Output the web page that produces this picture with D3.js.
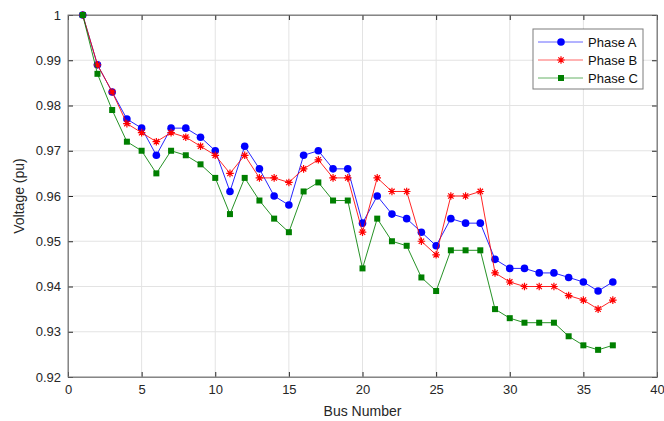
<!DOCTYPE html>
<html><head><meta charset="utf-8">
<script src="https://cdn.jsdelivr.net/npm/d3@7"></script>
<style>body{margin:0;background:#fff}svg{display:block}text{font-family:"Liberation Sans",Arial,sans-serif}</style>
</head><body><svg id="c" width="664" height="421"></svg>
<script>
const buses = d3.range(1, 38);
const phaseA = [1,0.989,0.983,0.977,0.975,0.969,0.975,0.975,0.973,0.970,0.961,0.971,0.966,0.960,0.958,0.969,0.970,0.966,0.966,0.954,0.960,0.956,0.955,0.952,0.949,0.955,0.954,0.954,0.946,0.944,0.944,0.943,0.943,0.942,0.941,0.939,0.941];
const phaseB = [1,0.989,0.983,0.976,0.974,0.972,0.974,0.973,0.971,0.969,0.965,0.969,0.964,0.964,0.963,0.966,0.968,0.964,0.964,0.952,0.964,0.961,0.961,0.950,0.947,0.960,0.960,0.961,0.943,0.941,0.940,0.940,0.940,0.938,0.937,0.935,0.937];
const phaseC = [1,0.987,0.979,0.972,0.970,0.965,0.970,0.969,0.967,0.964,0.956,0.964,0.959,0.955,0.952,0.961,0.963,0.959,0.959,0.944,0.955,0.950,0.949,0.942,0.939,0.948,0.948,0.948,0.935,0.933,0.932,0.932,0.932,0.929,0.927,0.926,0.927];
const seriesNames = ["Phase A","Phase B","Phase C"];
const xTicks = [0,5,10,15,20,25,30,35,40];
const yTicks = [0.92,0.93,0.94,0.95,0.96,0.97,0.98,0.99,1];

const svg = d3.select("#c");
const L=68, R=657, T=15, B=377;
const x = d3.scaleLinear().domain([0,40]).range([L,R]);
const y = d3.scaleLinear().domain([0.92,1]).range([B,T]);

// grid
svg.append("g").selectAll("line").data(xTicks).join("line")
  .attr("x1",d=>x(d)).attr("x2",d=>x(d)).attr("y1",T).attr("y2",B)
  .attr("stroke","#e3e3e3").attr("stroke-width",1);
svg.append("g").selectAll("line").data(yTicks).join("line")
  .attr("x1",L).attr("x2",R).attr("y1",d=>y(d)).attr("y2",d=>y(d))
  .attr("stroke","#e3e3e3").attr("stroke-width",1);

// axes
const ax = svg.append("g").attr("transform",`translate(0,${B})`)
  .call(d3.axisBottom(x).tickValues(xTicks).tickFormat(d3.format("d")).tickSizeInner(-5).tickSizeOuter(0).tickPadding(8));
const ay = svg.append("g").attr("transform",`translate(${L},0)`)
  .call(d3.axisLeft(y).tickValues(yTicks).tickFormat(d=>d===1?"1":d3.format(".2f")(d)).tickSizeInner(-5).tickSizeOuter(0).tickPadding(7));
svg.append("g").attr("transform",`translate(0,${T})`)
  .call(d3.axisTop(x).tickValues(xTicks).tickFormat("").tickSizeInner(-5).tickSizeOuter(0));
svg.append("g").attr("transform",`translate(${R},0)`)
  .call(d3.axisRight(y).tickValues(yTicks).tickFormat("").tickSizeInner(-5).tickSizeOuter(0));
svg.selectAll(".domain").attr("stroke","#262626").attr("stroke-opacity",0.55);
svg.selectAll(".tick line").attr("stroke","#262626");
svg.selectAll(".tick text").attr("font-size",13).attr("fill","#262626")
  .attr("font-family","'Liberation Sans',Arial,sans-serif");
svg.append("rect").attr("x",L).attr("y",T).attr("width",R-L).attr("height",B-T)
  .attr("fill","none").attr("stroke","#8a8a8a").attr("stroke-width",1);

svg.append("text").attr("x",(L+R)/2).attr("y",416).attr("text-anchor","middle")
  .attr("font-size",14).attr("fill","#262626").text("Bus Number");
svg.append("text").attr("transform",`translate(24,${(T+B)/2}) rotate(-90)`).attr("text-anchor","middle")
  .attr("font-size",14).attr("fill","#262626").text("Voltage (pu)");

const series = [
  {name:seriesNames[0], vals:phaseA, color:"#0000ff", marker:"circle"},
  {name:seriesNames[1], vals:phaseB, color:"#ff0000", marker:"star"},
  {name:seriesNames[2], vals:phaseC, color:"#007f00", marker:"square"}
];
const line = d3.line().x(d=>x(d[0])).y(d=>y(d[1]));

function drawMarker(g, type, color){
  if(type==="circle") g.append("circle").attr("r",3.8).attr("fill",color);
  else if(type==="square") g.append("rect").attr("x",-3).attr("y",-3).attr("width",6).attr("height",6).attr("fill",color);
  else {
    const s=3.8, p=[];
    for(let a=0;a<4;a++){const t=a*Math.PI/4;p.push(`M${-s*Math.cos(t)},${-s*Math.sin(t)}L${s*Math.cos(t)},${s*Math.sin(t)}`);}
    g.append("path").attr("d",p.join("")).attr("stroke",color).attr("stroke-width",1.2).attr("fill","none");
  }
}

series.forEach(s=>{
  const pts = buses.map((b,i)=>[b,s.vals[i]]);
  svg.append("path").datum(pts).attr("d",line).attr("fill","none")
    .attr("stroke",s.color).attr("stroke-width",1).attr("stroke-opacity",0.85);
  svg.append("g").selectAll("g").data(pts).join("g")
    .attr("transform",d=>`translate(${x(d[0])},${y(d[1])})`)
    .each(function(){drawMarker(d3.select(this), s.marker, s.color);});
});

// legend
const lg = svg.append("g");
lg.append("rect").attr("x",533).attr("y",29).attr("width",110).attr("height",60)
  .attr("fill","#fff").attr("stroke","#262626").attr("stroke-opacity",0.6);
series.forEach((s,i)=>{
  const yy = 42 + i*18;
  lg.append("line").attr("x1",538).attr("x2",583).attr("y1",yy).attr("y2",yy)
    .attr("stroke",s.color).attr("stroke-opacity",0.6);
  const g = lg.append("g").attr("transform",`translate(561,${yy})`);
  drawMarker(g, s.marker, s.color);
  lg.append("text").attr("x",588).attr("y",yy+4.5).attr("font-size",13).attr("fill","#111").text(s.name);
});
</script></body></html>
